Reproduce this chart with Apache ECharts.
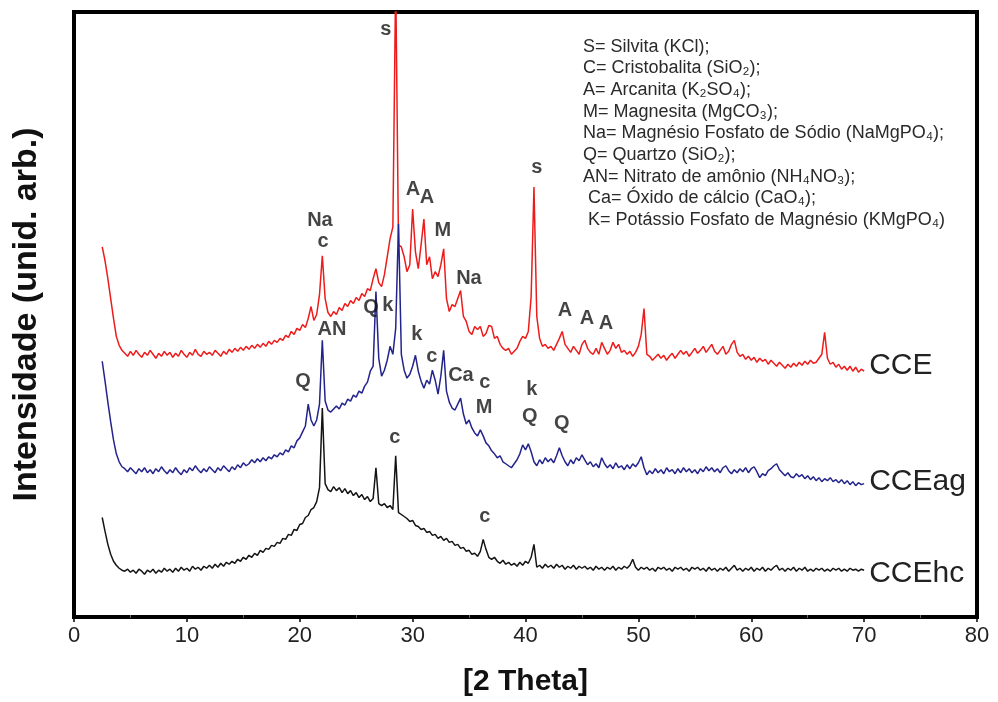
<!DOCTYPE html>
<html>
<head>
<meta charset="utf-8">
<script src="https://cdn.jsdelivr.net/npm/echarts@6/dist/echarts.min.js"></script>
<style>
html,body{margin:0;padding:0;background:#fff;}
#chart{width:998px;height:702px;}
</style>
</head>
<body>
<div id="chart"></div>
<script>
// 2-theta sampling grid of the traces (degrees)
const THETA_START = 2.5;
const THETA_STEP = 0.25;

// CCE (red) - arbitrary intensity, rows per degree: .00 .25 .50 .75
const cce = [
  370, 356,
  338, 318, 298, 280,
  271, 266, 263, 260,
  265, 261, 266, 262,
  259, 264, 261, 266,
  262, 258, 263, 260,
  265, 261, 264, 259,
  263, 260, 266, 262,
  259, 264, 261, 267,
  262, 260, 265, 262,
  264, 261, 266, 263,
  260, 265, 262, 267,
  264, 268, 265, 269,
  266, 270, 267, 271,
  268, 272, 269, 273,
  270, 275, 272, 276,
  274, 278, 276, 281,
  279, 285, 282, 288,
  286, 292, 289, 298,
  310, 296, 302, 322,
  361, 318, 304, 300,
  305, 302, 309, 306,
  313, 310, 316, 313,
  319, 316, 323, 320,
  328, 326, 338, 348,
  334, 330, 342, 360,
  378, 390, 640, 372,
  370, 360, 345, 352,
  408, 365, 348, 372,
  398, 352, 360, 338,
  345, 340, 352, 368,
  318, 305, 312, 310,
  318, 326, 300, 295,
  285, 282, 290, 287,
  290, 280, 283, 291,
  290, 278, 280, 272,
  268, 266, 268, 262,
  265, 268, 275, 280,
  278, 285, 320, 430,
  300, 278, 270, 272,
  268, 270, 266, 272,
  278, 285, 272, 268,
  264, 270, 266, 262,
  272, 276, 268, 264,
  262, 268, 262, 274,
  268, 262, 266, 274,
  268, 272, 264, 266,
  262, 265, 260, 264,
  270, 282, 308, 262,
  260, 256, 259, 262,
  258, 261, 256, 260,
  263, 258, 262, 266,
  262, 265, 260, 264,
  268, 263, 266, 270,
  264, 268, 272, 265,
  262, 266, 270, 262,
  265, 272, 276, 264,
  260, 262, 257, 260,
  256, 259, 254, 258,
  255, 257, 252, 256,
  253, 250, 254, 251,
  248, 252, 249, 253,
  250, 254, 251, 255,
  252, 256, 253, 254,
  258, 262, 284, 258,
  252, 254, 249, 252,
  247, 250, 246, 250,
  245, 249, 244, 247,
  245
];

// CCEag (blue)
const cceag = [
  255, 235,
  214, 194, 176, 162,
  154, 149, 147, 144,
  148, 145, 142, 147,
  144, 148, 143, 146,
  142, 147, 144, 149,
  145, 142, 146, 143,
  148, 144, 141, 146,
  143, 148, 145, 150,
  146, 143, 147, 144,
  149, 146, 143, 148,
  145, 150, 147, 144,
  149, 146, 151, 148,
  153, 150, 152, 156,
  153, 157, 154, 158,
  155, 159, 157, 161,
  159, 163, 161, 166,
  164, 170, 168, 175,
  178, 184, 190, 212,
  196, 190, 196, 212,
  276, 215, 206, 204,
  207, 210, 207, 213,
  211, 217, 215, 221,
  219, 225, 223, 230,
  234, 245, 250, 325,
  258, 240, 246, 256,
  270, 262, 288, 393,
  262, 246, 238, 242,
  250, 261, 245, 235,
  228, 236, 232, 246,
  236, 222, 240, 266,
  225, 214, 208, 206,
  212, 218, 202, 192,
  196, 188, 183, 180,
  186, 180, 173, 170,
  165, 162, 158, 160,
  154, 152, 150, 148,
  152, 156, 162, 171,
  166, 172, 164, 154,
  150, 156, 152, 158,
  154, 157, 153, 160,
  168, 160, 154, 150,
  156, 152, 158, 155,
  161, 156, 151, 154,
  149, 152, 148, 158,
  152, 148, 151, 147,
  153, 148, 150, 146,
  151, 147, 152, 149,
  153, 159, 148, 141,
  145, 142, 147, 143,
  146, 142, 148, 144,
  146, 142, 147, 143,
  148, 144, 147, 143,
  146, 142, 147, 144,
  149, 145, 148, 144,
  147, 143, 148, 150,
  145, 142, 146, 143,
  147, 144, 148, 143,
  147, 149, 144, 138,
  142, 140, 145, 147,
  150, 152, 146, 143,
  140, 143, 139, 138,
  142, 139, 141, 137,
  140, 136, 139, 135,
  138, 134, 137, 135,
  138, 134, 136, 133,
  136, 132, 135, 131,
  134, 130, 133, 131,
  132
];

// CCEhc (black)
const ccehc = [
  98, 84,
  71, 61, 54, 50,
  47, 45, 44, 46,
  43, 45, 42, 46,
  44, 41, 45, 43,
  46, 42, 45, 43,
  47, 44, 46, 43,
  47, 44, 48, 45,
  47, 44, 49, 46,
  48, 45, 49, 47,
  50, 47, 51, 48,
  52, 49, 53, 51,
  54, 52, 56, 54,
  58, 56, 60, 58,
  62, 60, 65, 63,
  67, 66, 70, 69,
  73, 72, 77, 76,
  81, 80, 86, 85,
  91, 92, 98, 100,
  106, 108, 114, 128,
  208, 132, 126, 124,
  129, 125, 128, 123,
  127, 122, 125, 120,
  123, 118, 121, 116,
  119, 114, 117, 148,
  112, 110, 112, 108,
  110, 106, 160, 103,
  101, 99, 97, 94,
  95, 90, 89, 86,
  87, 83, 84, 80,
  81, 77, 79, 75,
  77, 73, 74, 70,
  71, 67, 68, 64,
  65, 61, 62, 59,
  64, 76, 66, 58,
  56, 58, 54, 52,
  55, 51, 53, 50,
  52, 49, 53, 50,
  54, 52, 58, 71,
  48, 50, 47, 51,
  48, 50, 47, 51,
  48, 50, 46, 49,
  47, 50, 46, 49,
  47, 49, 46, 48,
  45, 49, 46, 48,
  45, 48, 46, 49,
  45, 48, 46, 49,
  47, 50, 56, 48,
  45, 48, 46, 48,
  45, 47, 44, 48,
  46, 48, 45, 47,
  44, 48, 46, 48,
  45, 47, 44, 48,
  46, 48, 45, 47,
  44, 48, 45, 47,
  44, 47, 45, 48,
  44, 47, 50, 45,
  47, 44, 47, 45,
  48, 44, 47, 45,
  48, 44, 47, 45,
  48, 50, 45, 47,
  44, 47, 45, 48,
  44, 47, 45, 48,
  44, 46, 44, 47,
  45, 47, 44, 46,
  44, 47, 45, 47,
  44, 46, 44, 47,
  45, 46, 44, 46,
  45
];

const seriesNames = ['CCE', 'CCEag', 'CCEhc'];
const xTicks = [0, 10, 20, 30, 40, 50, 60, 70, 80];

// peak annotations: [text, 2theta, intensity]
const peakLabels = [
  ['s', 27.63, 588],
  ['Na', 21.79, 396], ['c', 22.06, 375],
  ['A', 30.03, 428], ['A', 31.27, 420],
  ['M', 32.68, 386], ['Na', 34.99, 338],
  ['s', 41.01, 450],
  ['A', 43.49, 306], ['A', 45.44, 298], ['A', 47.12, 293],
  ['Q', 20.28, 235], ['AN', 22.85, 287],
  ['Q', 26.31, 309], ['k', 27.81, 311],
  ['k', 30.38, 282], ['c', 31.71, 260],
  ['Ca', 34.28, 241], ['c', 36.40, 234], ['M', 36.32, 209],
  ['k', 40.57, 227], ['Q', 40.39, 200], ['Q', 43.22, 192],
  ['c', 28.43, 178], ['c', 36.40, 99]
];

const legendLines = [
  'S= Silvita (KCl);',
  'C= Cristobalita (SiO\u2082);',
  'A= Arcanita (K\u2082SO\u2084);',
  'M= Magnesita (MgCO\u2083);',
  'Na= Magnésio Fosfato de Sódio (NaMgPO\u2084);',
  'Q= Quartzo (SiO\u2082);',
  'AN= Nitrato de amônio (NH\u2084NO\u2083);',
  ' Ca= Óxido de cálcio (CaO\u2084);',
  ' K= Potássio Fosfato de Magnésio (KMgPO\u2084)'
];

const toPairs = arr => arr.map((v, i) => [THETA_START + i * THETA_STEP, v]);

const FONT = '"Liberation Sans", Arial, "DejaVu Sans", sans-serif';
const colors = ['#ee1b1b', '#23238c', '#141414'];
const traces = [cce, cceag, ccehc];
const endOffsets = [[0, -5], [0, -2], [0, 4]];

const lineSeries = traces.map((arr, k) => ({
  type: 'line',
  name: seriesNames[k],
  data: toPairs(arr),
  showSymbol: false,
  clip: true,
  z: 2 + k,
  lineStyle: { color: colors[k], width: 1.5 },
  itemStyle: { color: colors[k] },
  endLabel: {
    show: true,
    formatter: seriesNames[k],
    color: '#222',
    fontSize: 30,
    fontFamily: FONT,
    distance: 5,
    offset: endOffsets[k]
  },
  emphasis: { disabled: true }
}));

const chart = echarts.init(document.getElementById('chart'), null, { renderer: 'canvas' });
chart.setOption({
  animation: false,
  backgroundColor: '#fff',
  grid: {
    left: 74, right: 21, top: 12, bottom: 82,
    show: true, borderColor: '#000', borderWidth: 4, backgroundColor: 'transparent'
  },
  xAxis: {
    type: 'value', min: xTicks[0], max: xTicks[xTicks.length - 1], interval: 10,
    axisLine: { show: false },
    axisTick: { show: true, inside: false, length: 7, lineStyle: { color: '#000', width: 1.5 } },
    minorTick: { show: true, splitNumber: 2, length: 3, lineStyle: { color: '#666', width: 1 } },
    splitLine: { show: false },
    axisLabel: { color: '#222', fontSize: 22, fontFamily: FONT, margin: 8 },
    name: '[2 Theta]', nameLocation: 'middle', nameGap: 50,
    nameTextStyle: { color: '#111', fontSize: 30, fontWeight: 'bold', fontFamily: FONT }
  },
  yAxis: {
    type: 'value', min: -2, max: 606,
    axisLine: { show: false }, axisTick: { show: false }, axisLabel: { show: false },
    splitLine: { show: false },
    name: 'Intensidade (unid. arb.)', nameLocation: 'middle', nameGap: 30,
    nameTextStyle: { color: '#111', fontSize: 34, fontWeight: 'bold', fontFamily: FONT }
  },
  series: lineSeries.concat([{
    type: 'scatter',
    silent: true,
    symbolSize: 0,
    z: 10,
    data: peakLabels.map(p => ({ name: p[0], value: [p[1], p[2]] })),
    label: {
      show: true, position: 'inside', formatter: '{b}',
      color: '#151515', fontSize: 20, fontWeight: 'bold', fontFamily: FONT
    }
  }]),
  graphic: [{
    type: 'text', left: 583, top: 36, silent: true,
    style: {
      text: legendLines.join('\n'),
      fill: '#2a2a2a', fontSize: 18, fontFamily: FONT, lineHeight: 21.67
    }
  }]
});
</script>
</body>
</html>
